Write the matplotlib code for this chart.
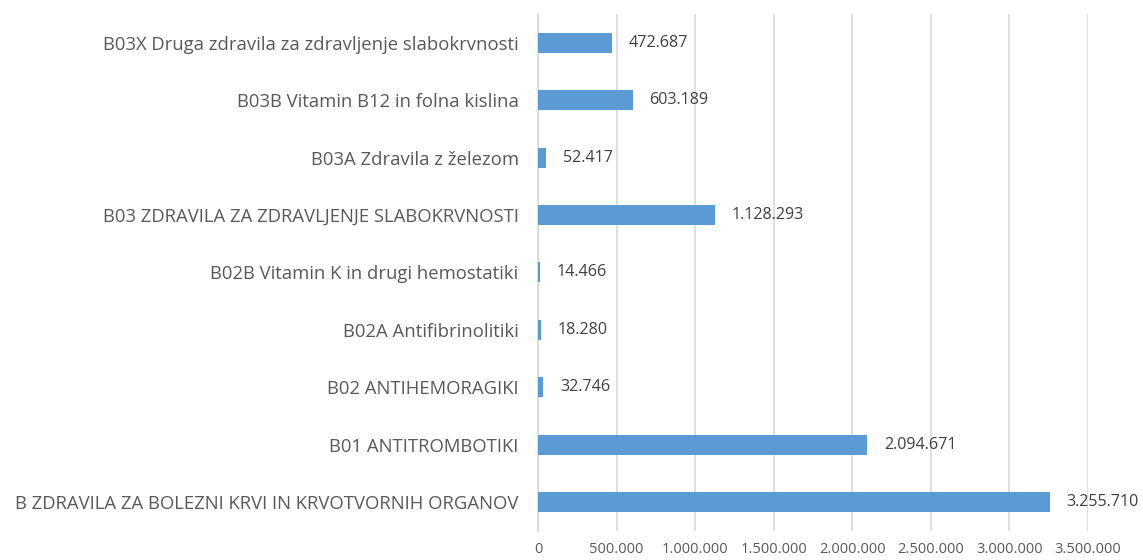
import matplotlib
matplotlib.use("Agg")
import matplotlib.pyplot as plt
from matplotlib.ticker import FuncFormatter

# categories, bottom to top as in the chart
categories = [
    "B ZDRAVILA ZA BOLEZNI KRVI IN KRVOTVORNIH ORGANOV",
    "B01 ANTITROMBOTIKI",
    "B02 ANTIHEMORAGIKI",
    "B02A Antifibrinolitiki",
    "B02B Vitamin K in drugi hemostatiki",
    "B03 ZDRAVILA ZA ZDRAVLJENJE SLABOKRVNOSTI",
    "B03A Zdravila z železom",
    "B03B Vitamin B12 in folna kislina",
    "B03X Druga zdravila za zdravljenje slabokrvnosti",
]
values = [3255710, 2094671, 32746, 18280, 14466, 1128293, 52417, 603189, 472687]
x_ticks = [0, 500000, 1000000, 1500000, 2000000, 2500000, 3000000, 3500000]

def fmt(v):
    return f"{int(v):,}".replace(",", ".")

plt.rcParams['font.family'] = ['Open Sans', 'DejaVu Sans']

fig = plt.figure(figsize=(11.43, 5.6), dpi=100)
ax = fig.add_axes([0.4707, 0.052, 0.4812, 0.923])

pos = range(len(categories))
ax.barh(pos, values, height=0.35, color="#5B9BD5", zorder=3)

# data labels to the right of each bar
for p, v in zip(pos, values):
    ax.annotate(fmt(v), (v, p), xytext=(12, 0), textcoords="offset points",
                va="center", ha="left", fontsize=11.6, color="#404040",
                annotation_clip=False)

ax.set_xlim(0, 3500000)
ax.set_ylim(-0.5, len(categories) - 0.5)
ax.set_xticks(x_ticks)
ax.xaxis.set_major_formatter(FuncFormatter(lambda v, _: fmt(v)))
ax.set_yticks(list(pos))
ax.set_yticklabels(categories, fontsize=13.3, color="#595959")
ax.tick_params(axis="x", labelsize=10.5, labelcolor="#595959", length=0, pad=8)
ax.tick_params(axis="y", length=0, pad=14)

ax.grid(axis="x", color="#D9D9D9", linewidth=1.2, zorder=0)
for s in ["top", "right", "bottom"]:
    ax.spines[s].set_visible(False)
ax.spines["left"].set_color("#D9D9D9")
ax.spines["left"].set_linewidth(1.2)

fig.savefig("out.png", dpi=100)
